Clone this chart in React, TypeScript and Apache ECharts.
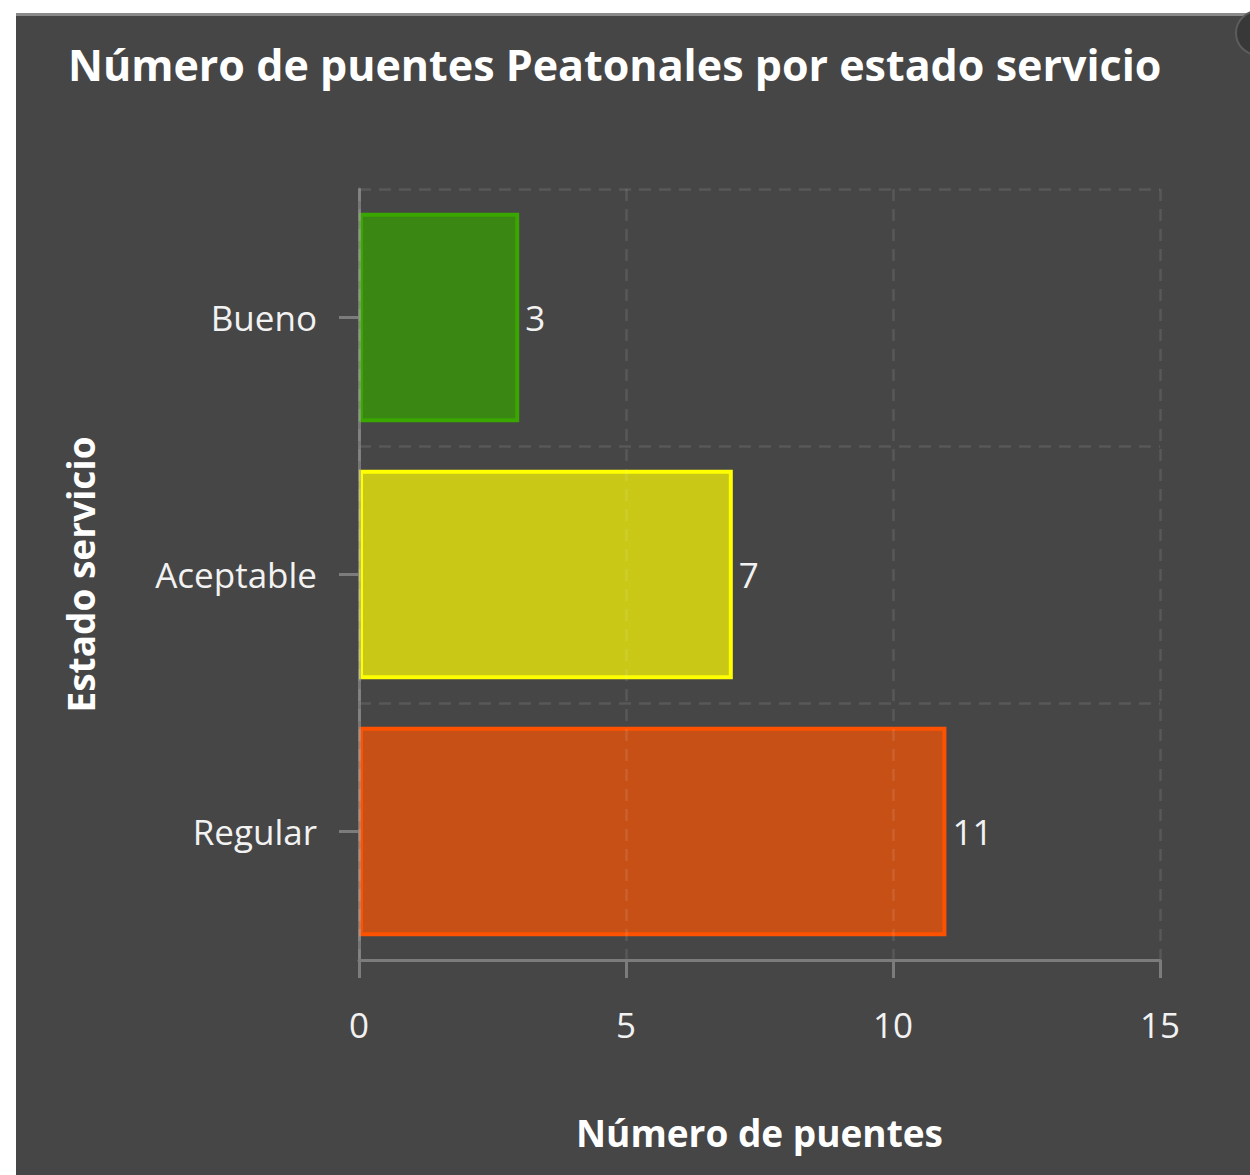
import React, { useEffect, useRef } from "react";
import * as echarts from "echarts";

const categories = ["Bueno", "Aceptable", "Regular"];
const values = [3, 7, 11];
const fillColors = ["#3b8714", "#c9c816", "#c65016"];
const borderColors = ["#3aa600", "#ffff00", "#ff5200"];
const xTicks = { min: 0, max: 15, interval: 5 };

const FONT = "Open Sans";
const GRID_LINE = "rgba(255,255,255,0.1)";

export default function App() {
  const ref = useRef<HTMLDivElement>(null);
  useEffect(() => {
    if (!ref.current) return;
    const chart = echarts.init(ref.current, null, { renderer: "svg" });
    chart.setOption({
      animation: false,
      backgroundColor: "transparent",
      textStyle: { fontFamily: FONT },
      title: {
        text: "Número de puentes Peatonales por estado servicio",
        left: 63,
        top: 38,
        textStyle: { color: "#ffffff", fontSize: 43, fontWeight: "bold", fontFamily: FONT },
      },
      grid: { left: 359, top: 189, right: 90, bottom: 215, containLabel: false },
      xAxis: {
        type: "value",
        min: xTicks.min,
        max: xTicks.max,
        interval: xTicks.interval,
        z: 4,
        axisLine: { show: true, lineStyle: { color: "#7c7c7c", width: 3 } },
        axisTick: { show: true, length: 18, lineStyle: { color: "#7c7c7c", width: 3 } },
        axisLabel: { color: "#f2f2f2", fontSize: 35, margin: 47, fontFamily: FONT },
        splitLine: { show: true, lineStyle: { color: GRID_LINE, width: 2.5, type: [12, 8] } },
        name: "Número de puentes",
        nameLocation: "middle",
        nameGap: 154,
        nameTextStyle: { color: "#ffffff", fontSize: 37, fontWeight: "bold", fontFamily: FONT },
      },
      yAxis: {
        type: "category",
        data: categories,
        inverse: true,
        z: 3,
        axisLine: { show: true, lineStyle: { color: "rgba(150,150,150,0.6)", width: 3 } },
        axisTick: { show: true, alignWithLabel: true, length: 20, lineStyle: { color: "#7c7c7c", width: 3 } },
        axisLabel: { color: "#f2f2f2", fontSize: 35, margin: 42, fontFamily: FONT, padding: [0, 0, 18, 0] },
        splitLine: { show: true, lineStyle: { color: GRID_LINE, width: 2.5, type: [12, 8] } },
        name: "Estado servicio",
        nameLocation: "middle",
        nameGap: 260,
        nameRotate: 90,
        nameTextStyle: { color: "#ffffff", fontSize: 37, fontWeight: "bold", fontFamily: FONT },
      },
      series: [
        {
          type: "bar",
          barWidth: "81.5%",
          data: values.map((v, i) => ({
            value: v,
            itemStyle: { color: fillColors[i], borderColor: borderColors[i], borderWidth: 4 },
          })),
          label: {
            show: true,
            position: "right",
            distance: 6,
            color: "#f2f2f2",
            fontSize: 35,
            fontFamily: FONT,
            padding: [0, 0, 6, 0],
          },
        },
      ],
    });
    return () => chart.dispose();
  }, []);

  return (
    <div style={{ position: "absolute", left: 0, top: 0, width: 1250, height: 1175, background: "#ffffff", overflow: "hidden" }}>
      <div
        style={{
          position: "absolute",
          left: 16,
          top: 13,
          width: 1234,
          height: 1162,
          background: "#464646",
          borderTop: "3px solid #8a8a8a",
          boxSizing: "border-box",
        }}
      />
      <div
        style={{
          position: "absolute",
          left: 1235,
          top: 10,
          width: 46,
          height: 46,
          borderRadius: "50%",
          background: "#383838",
          border: "2px solid #5c5c5c",
          boxSizing: "border-box",
        }}
      />
      <div ref={ref} style={{ position: "absolute", left: 0, top: 0, width: 1250, height: 1175 }} />
    </div>
  );
}
